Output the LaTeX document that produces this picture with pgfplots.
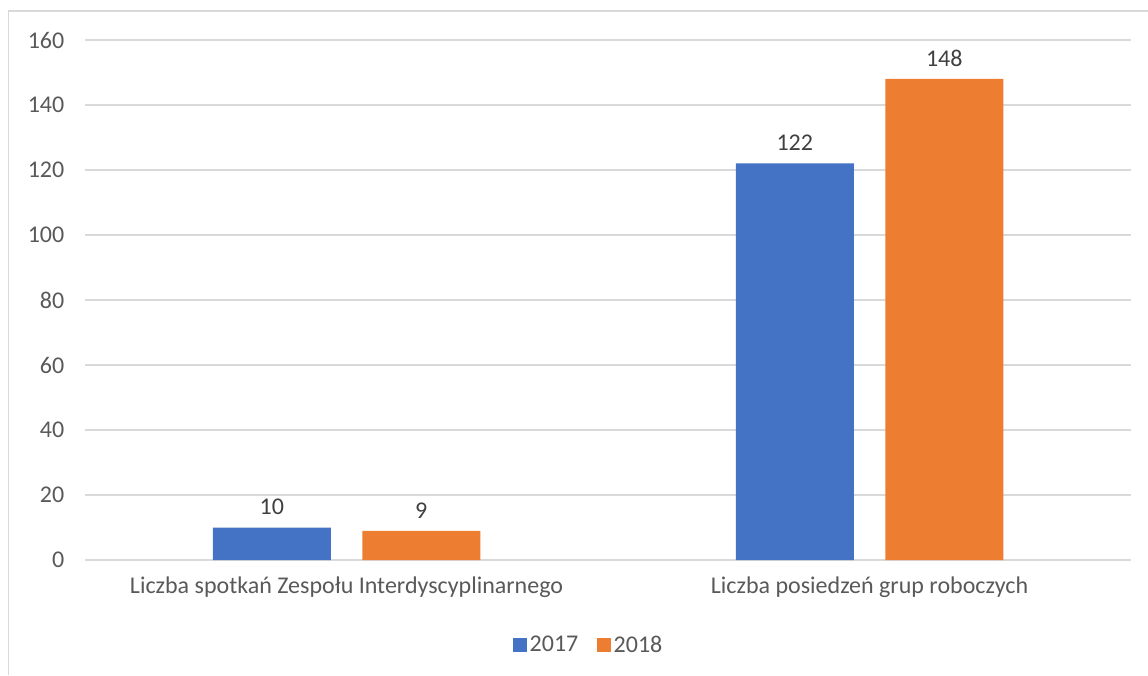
\documentclass[border=0pt]{standalone}
\usepackage{pgfplots}
\pgfplotsset{compat=1.18}
\usepackage{fontspec}
\setmainfont{Carlito}
\definecolor{cblue}{HTML}{4472C4}
\definecolor{corange}{HTML}{ED7D31}
\definecolor{cgrid}{HTML}{D9D9D9}
\definecolor{ctext}{HTML}{595959}
\definecolor{clab}{HTML}{404040}
\begin{document}
\begin{tikzpicture}
\useasboundingbox (0,0) rectangle (861pt,506.25pt);
\draw[cgrid, line width=1.2pt] (6.4pt,0) -- (6.4pt,498pt) -- (861pt,498pt);
\begin{axis}[
  at={(259.9pt,86.25pt)}, anchor=origin,
  scale only axis,
  width=784.5pt, height=390pt,
  xmin=-0.5, xmax=1.5, ymin=0, ymax=160,
  ytick={0,20,...,160},
  xtick={0,1},
  xticklabels={Liczba spotkań Zespołu Interdyscyplinarnego, Liczba posiedzeń grup roboczych},
  axis line style={draw=none},
  major tick length=0pt,
  ymajorgrids, grid style={cgrid, line width=1pt},
  tick label style={font=\fontsize{18}{21}\selectfont, text=ctext},
  /pgf/number format/assume math mode=true,
  yticklabel style={xshift=-12pt},
  xticklabel style={yshift=-9pt},
  ybar, bar width=88.5pt,
  nodes near coords,
  nodes near coords style={font=\fontsize{18}{21}\selectfont, text=clab, yshift=6pt},
  legend style={draw=none, at={(0.4818,-0.1635)}, anchor=center, legend columns=2,
     font=\fontsize{18}{21}\selectfont, text=ctext, /tikz/every even column/.append style={column sep=12pt}},
  legend image code/.code={\fill[#1] (0pt,-5.25pt) rectangle (10.5pt,5.25pt);},
  legend cell align=left,
]
\addplot[fill=cblue, draw=none, bar shift=-56.06pt] coordinates {(0,10) (1,122)};
\addplot[fill=corange, draw=none, bar shift=56.06pt] coordinates {(0,9) (1,148)};
\legend{2017,2018}
\end{axis}
\end{tikzpicture}
\end{document}
